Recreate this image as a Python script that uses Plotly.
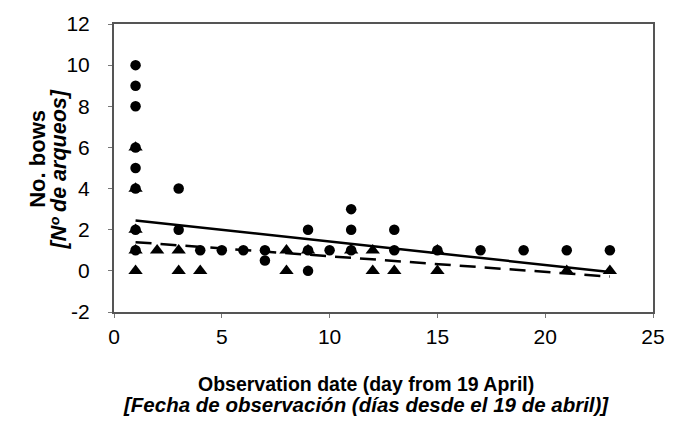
import plotly.graph_objects as go

# Circles series (day, number of bows)
circle_days = [1, 1, 1, 1, 1, 1, 1, 1, 3, 3, 4, 5, 6, 7, 7, 9, 9, 9, 10, 11, 11, 11, 13, 13, 15, 17, 19, 21, 23]
circle_bows = [10, 9, 8, 6, 5, 4, 2, 1, 4, 2, 1, 1, 1, 1, 0.5, 2, 1, 0, 1, 3, 2, 1, 2, 1, 1, 1, 1, 1, 1]

# Triangles series
tri_days = [1, 1, 1, 1, 1, 2, 3, 3, 4, 8, 8, 9, 11, 12, 12, 13, 15, 15, 21, 23]
tri_bows = [6, 4, 2, 1, 0, 1, 1, 0, 0, 1, 0, 1, 1, 1, 0, 0, 1, 0, 0, 0]

# Linear trends (slope, intercept) over days 1..23
trend_circle = (-0.1136, 2.56)
trend_tri = (-0.076, 1.47)
trend_days = [1, 23]

x_ticks = [0, 5, 10, 15, 20, 25]
y_ticks = [-2, 0, 2, 4, 6, 8, 10, 12]
y_tick_labels = ["-2", "0", "2", "4", "6", "8", "10", "12"]

font = "Liberation Sans, Arial, sans-serif"
fs = 21

fig = go.Figure()
fig.add_trace(go.Scatter(
    x=trend_days, y=[trend_circle[0] * d + trend_circle[1] for d in trend_days],
    mode="lines", line=dict(color="black", width=2.5), showlegend=False))
fig.add_trace(go.Scatter(
    x=trend_days, y=[trend_tri[0] * d + trend_tri[1] for d in trend_days],
    mode="lines", line=dict(color="black", width=2.5, dash="16px,9px"), showlegend=False))
fig.add_trace(go.Scatter(
    x=circle_days, y=circle_bows, mode="markers",
    marker=dict(symbol="circle", size=10.5, color="black"), showlegend=False))
fig.add_trace(go.Scatter(
    x=tri_days, y=tri_bows, mode="markers",
    marker=dict(symbol="triangle-up", size=12.5, color="black"), showlegend=False))

fig.update_layout(
    width=677, height=423,
    margin=dict(l=114, r=16, t=17, b=111),
    paper_bgcolor="white", plot_bgcolor="white",
    font=dict(family=font, size=fs, color="black"),
    xaxis=dict(range=[0, 25], tickvals=x_ticks, showgrid=False, zeroline=False,
               showline=True, linecolor="#555", linewidth=2, mirror=True,
               ticks="outside", ticklen=4, tickcolor="#777", tickfont=dict(size=fs),
               ticklabelstandoff=1),
    yaxis=dict(range=[-2, 12], tickvals=y_ticks, ticktext=y_tick_labels,
               showgrid=False, zeroline=False,
               showline=True, linecolor="#555", linewidth=2, mirror=True,
               ticks="outside", ticklen=4, tickcolor="#777", tickfont=dict(size=fs),
               ticklabelstandoff=14),
    annotations=[
        dict(text="<b>Observation date (day from 19 April)</b>", xref="paper", yref="paper",
             x=0.468, y=-0.249, xanchor="center", yanchor="middle", showarrow=False,
             font=dict(size=19.5)),
        dict(text="<b><i>[Fecha de observación (días desde el 19 de abril)]</i></b>", xref="paper", yref="paper",
             x=0.468, y=-0.322, xanchor="center", yanchor="middle", showarrow=False,
             font=dict(size=20.5)),
        dict(text="<b>No. bows</b>", xref="paper", yref="paper", textangle=-90,
             x=-0.141, y=0.532, xanchor="center", yanchor="middle", showarrow=False,
             font=dict(size=22)),
        dict(text="<b><i>[Nº de arqueos]</i></b>", xref="paper", yref="paper", textangle=-90,
             x=-0.102, y=0.495, xanchor="center", yanchor="middle", showarrow=False,
             font=dict(size=21.5)),
    ],
)

fig.write_html("out.html", config={"displayModeBar": False},
               post_script="document.body.style.margin='0';")
